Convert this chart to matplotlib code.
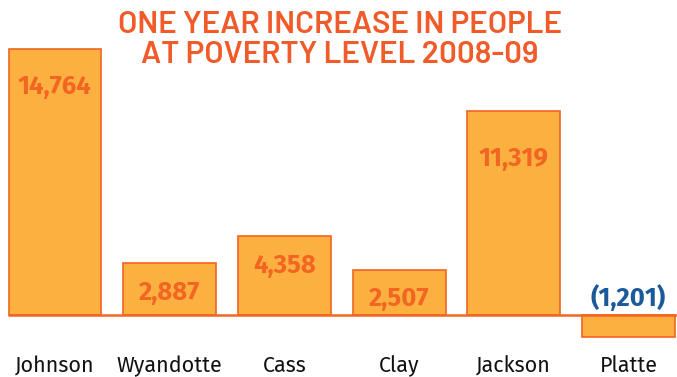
import matplotlib
matplotlib.use("Agg")
import matplotlib.pyplot as plt

categories = ["Johnson", "Wyandotte", "Cass", "Clay", "Jackson", "Platte"]
values = [14764, 2887, 4358, 2507, 11319, -1201]
value_labels = ["14,764", "2,887", "4,358", "2,507", "11,319", "(1,201)"]
title = "ONE YEAR INCREASE IN PEOPLE\nAT POVERTY LEVEL 2008-09"

# label offsets below bar top in pixels (style/positioning)
label_offsets_px = [38, 30, 29, 29, 48, -17]

fill = "#FBB040"
edge = "#F26522"
blue = "#1A5A9A"

W, H = 677, 377
fig = plt.figure(figsize=(W / 100, H / 100), dpi=100)
ax = fig.add_axes([0, 0, 1, 1])

px_per_unit_x = 114.7
x0 = 55.0
ax.set_xlim((0 - x0) / px_per_unit_x, (W - x0) / px_per_unit_x)
vpp = 14764 / 266.0  # value per pixel
base_px = 315
ax.set_ylim(-(H - base_px) * vpp, base_px * vpp)
ax.axis("off")

xs = list(range(len(categories)))
ax.bar(xs, values, width=0.81, color=fill, edgecolor=edge, linewidth=1.2, zorder=2)
ax.plot([(8 - x0) / px_per_unit_x, (W - x0) / px_per_unit_x], [0, 0], color=edge, lw=1.8, zorder=3,
        solid_capstyle="butt")

for i, (v, lab, off) in enumerate(zip(values, value_labels, label_offsets_px)):
    top = max(v, 0)
    y = top - off * vpp
    ax.text(i, y, lab, ha="center", va="center", fontsize=18.5, fontweight="bold",
            family=["Fira Sans", "DejaVu Sans"], color=blue if v < 0 else edge, zorder=4)

for i, c in enumerate(categories):
    ax.text(i, -(366 - base_px) * vpp, c, ha="center", va="center", fontsize=15.5,
            family=["Fira Sans", "DejaVu Sans"], color="#111111")

fig.text(340 / W, 1 - 40 / H, title, ha="center", va="center", fontsize=22.5,
         fontweight="semibold", family=["Barlow", "DejaVu Sans"], color="#F15A29",
         linespacing=1.12)

fig.savefig("out.png", dpi=100)
